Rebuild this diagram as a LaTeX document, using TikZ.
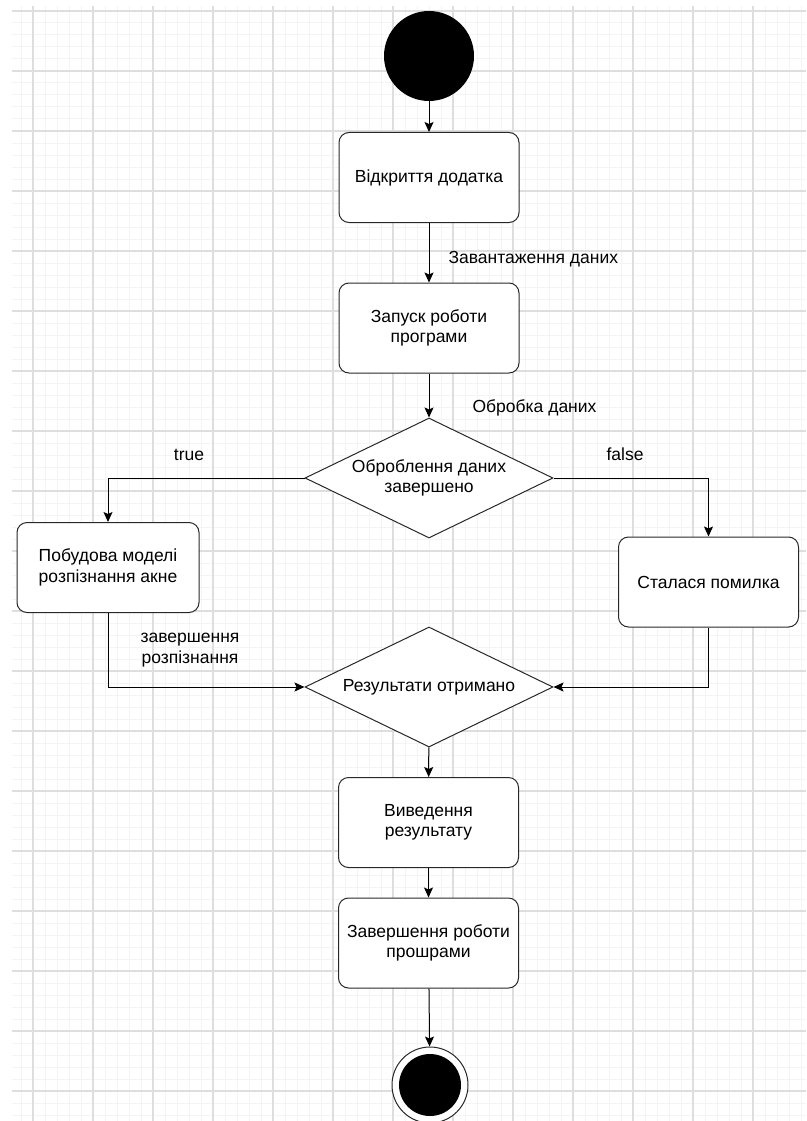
\documentclass[tikz,border=0pt]{standalone}
\usepackage{fontspec}
\setmainfont{Liberation Sans}
\usetikzlibrary{arrows.meta,shapes.geometric}

\definecolor{gridmajor}{RGB}{222,222,222}
\definecolor{gridminor}{RGB}{244,244,244}
\definecolor{edge}{RGB}{40,40,40}

\tikzset{
  act/.style={draw=edge,fill=white,line width=1pt,rounded corners=10pt,
    minimum width=180pt,minimum height=90pt,align=center},
  cond/.style={diamond,draw=edge,fill=white,line width=1pt,aspect=2.07,
    minimum width=248pt,minimum height=120pt,inner sep=0pt,align=center},
  flow/.style={-{Stealth[length=10pt,width=9pt,inset=2pt]},line width=1pt},
  lbl/.style={align=center}
}

\begin{document}
\begin{tikzpicture}[x=1pt,y=-1pt,>=Stealth,every node/.style={font=\fontsize{17.5}{20.5}\selectfont}]
  \useasboundingbox (0,0) rectangle (806,1121);
  % grid paper
  \foreach \gx in {21,33,...,806} \draw[gridminor,line width=1pt] (\gx,6) -- (\gx,1121);
  \foreach \gy in {11,23,...,1121} \draw[gridminor,line width=1pt] (12,\gy) -- (806,\gy);
  \foreach \gx in {33,93,...,806} \draw[gridmajor,line width=1.2pt] (\gx,6) -- (\gx,1121);
  \foreach \gy in {11,71,...,1121} \draw[gridmajor,line width=1.2pt] (12,\gy) -- (806,\gy);

  % activities
  \node[circle,fill=black,minimum size=90pt,inner sep=0pt] (start) at (429,56) {};
  \node[act] (open) at (429,177.5) {Відкриття додатка};
  \node[act] (launch) at (429,328) {Запуск роботи\\програми};
  \node[cond] (check) at (429,478) {Оброблення даних\\завершено};
  \node[act,minimum width=182pt] (build) at (108,567.5) {Побудова моделі\\розпізнання акне};
  \node[act] (error) at (708.5,582) {Сталася помилка};
  \node[cond] (result) at (429,687) {Результати отримано};
  \node[act] (output) at (428.5,822.5) {Виведення\\результату};
  \node[act] (finish) at (428.5,943) {Завершення роботи\\прошрами};
  \node[circle,draw=edge,fill=white,line width=1pt,minimum size=76pt,inner sep=0pt] (end) at (430,1085) {};
  \node[circle,fill=black,minimum size=62pt,inner sep=0pt] (enddot) at (end.center) {};

  % flows
  \draw[flow] (start) -- (open);
  \draw[flow] (open) -- (launch);
  \draw[flow] (launch) -- (check);
  \draw[flow] (check.west) -| (build.north);
  \draw[flow] (check.east) -| (error.north);
  \draw[flow] (build.south) |- (result.west);
  \draw[flow] (error.south) |- (result.east);
  \draw[flow] (result) -- (output);
  \draw[flow] (output) -- (finish);
  \draw[flow] (finish) -- (end);

  % labels
  \node[lbl,anchor=west] (lload) at (445,259) {Завантаження даних};
  \node[lbl,anchor=west] (lproc) at (469,408) {Обробка даних};
  \node[lbl] (ltrue) at (189,455) {true};
  \node[lbl] (lfalse) at (625,454) {false};
  \node[lbl] (ldone) at (190,650) {завершення\\розпізнання};
\end{tikzpicture}
\end{document}
